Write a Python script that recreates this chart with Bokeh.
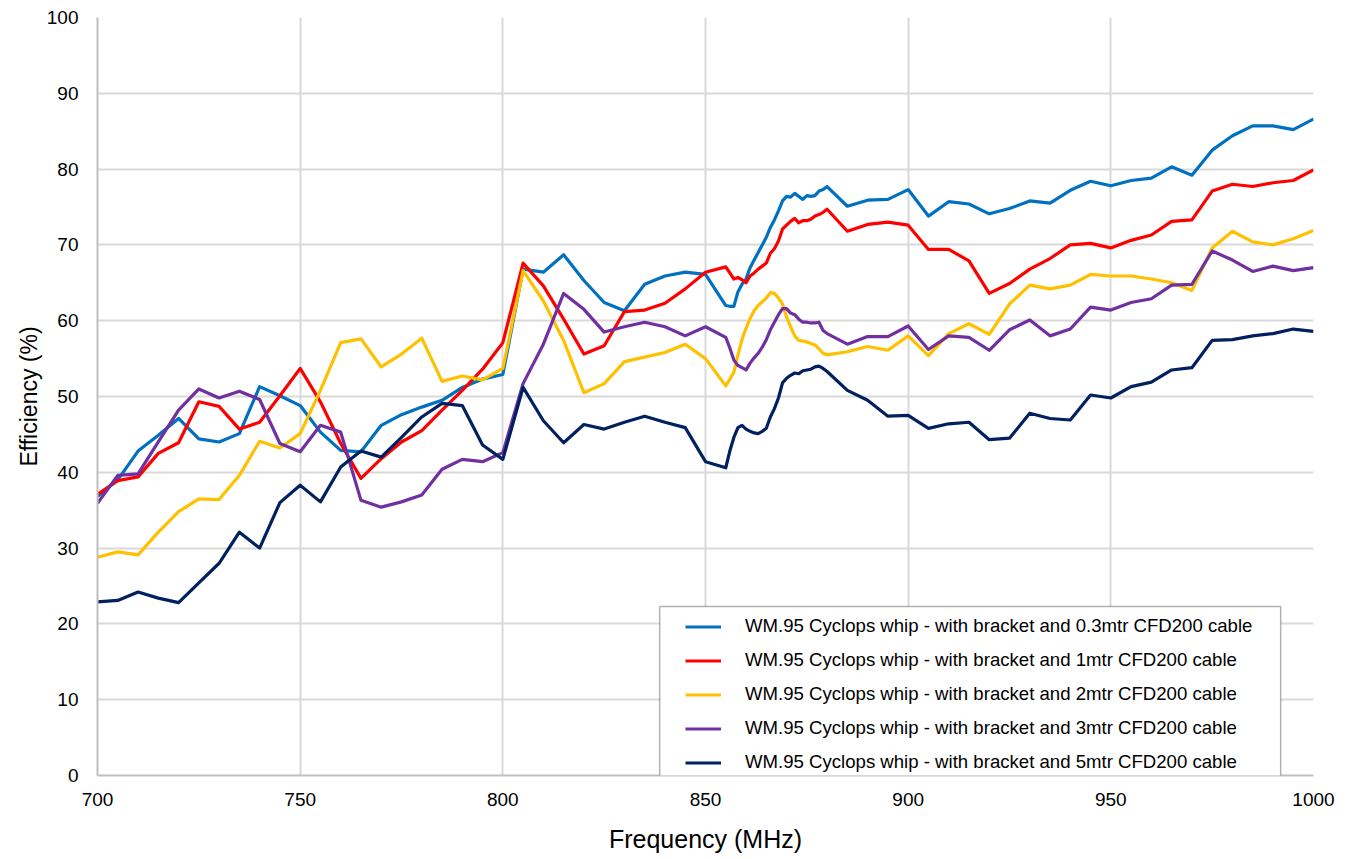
from bokeh.plotting import figure
from bokeh.models import Legend, LegendItem, BoxAnnotation, Range1d, FixedTicker
from bokeh.embed import file_html
from bokeh.resources import INLINE

freq = [700, 705, 710, 715, 720, 725, 730, 735, 740, 745, 750, 755, 760, 765, 770,
        775, 780, 785, 790, 795, 800, 805, 810, 815, 820, 825, 830, 835, 840, 845, 850,
        855, 856, 857, 858, 859, 860, 861, 862, 863, 864, 865, 866, 867, 868, 869, 870,
        871, 872, 873, 874, 875, 876, 877, 878, 879, 880,
        885, 890, 895, 900, 905, 910, 915, 920, 925, 930, 935, 940, 945, 950, 955, 960,
        965, 970, 975, 980, 985, 990, 995, 1000]

eff_03m = [36.8, 39.0, 42.8, 44.9, 47.1, 44.4, 44.0, 45.1, 51.3, 50.1, 48.8, 45.3, 42.9, 42.7, 46.2,
           47.6, 48.6, 49.5, 51.2, 52.3, 52.9, 66.8, 66.4, 68.7, 65.3, 62.4, 61.3, 64.8, 65.9, 66.4, 66.1,
           62.0, 61.9, 61.9, 63.8, 64.8, 65.5, 67.0, 68.0, 69.0, 70.0, 71.0, 72.3, 73.3, 74.5, 75.8, 76.4,
           76.3, 76.8, 76.4, 76.0, 76.5, 76.4, 76.5, 77.1, 77.3, 77.7,
           75.1, 75.9, 76.0, 77.3, 73.8, 75.7, 75.4, 74.1, 74.8, 75.8, 75.5, 77.2, 78.4, 77.8, 78.5, 78.8,
           80.3, 79.2, 82.5, 84.4, 85.7, 85.7, 85.2, 86.6]

eff_1m = [37.1, 38.9, 39.4, 42.5, 43.9, 49.3, 48.7, 45.7, 46.6, 50.1, 53.7, 49.3, 43.8, 39.2, 41.8,
          44.0, 45.5, 48.2, 50.8, 53.6, 57.1, 67.6, 64.6, 60.2, 55.6, 56.7, 61.2, 61.4, 62.3, 64.2, 66.4,
          67.1, 66.3, 65.5, 65.7, 65.4, 65.0, 65.9, 66.3, 66.8, 67.2, 67.6, 68.9, 69.5, 70.5, 72.1, 72.6,
          73.1, 73.5, 72.9, 73.2, 73.2, 73.4, 73.8, 74.0, 74.3, 74.7,
          71.8, 72.7, 73.0, 72.6, 69.4, 69.4, 67.9, 63.6, 64.9, 66.8, 68.2, 70.0, 70.2, 69.6, 70.6, 71.3,
          73.1, 73.3, 77.1, 78.0, 77.7, 78.2, 78.5, 79.9]

eff_2m = [28.8, 29.5, 29.1, 32.1, 34.8, 36.5, 36.4, 39.6, 44.1, 43.2, 45.1, 50.8, 57.1, 57.6, 53.9,
          55.6, 57.7, 52.0, 52.7, 52.2, 53.7, 66.6, 62.6, 57.4, 50.5, 51.7, 54.6, 55.2, 55.8, 56.9, 55.0,
          51.4, 52.3, 53.2, 55.5, 57.5, 59.0, 60.3, 61.3, 62.0, 62.5, 63.0, 63.7, 63.6, 63.0, 62.2, 60.5,
          59.2, 58.0, 57.4, 57.3, 57.2, 57.0, 56.8, 56.3, 55.7, 55.5,
          55.9, 56.6, 56.1, 58.0, 55.4, 58.3, 59.6, 58.2, 62.2, 64.7, 64.2, 64.7, 66.1, 65.9, 65.9, 65.5,
          65.0, 64.0, 69.6, 71.8, 70.4, 70.0, 70.8, 71.9]

eff_3m = [35.9, 39.6, 39.8, 44.0, 48.2, 51.0, 49.8, 50.7, 49.6, 43.8, 42.7, 46.2, 45.3, 36.3, 35.4,
          36.1, 37.0, 40.4, 41.7, 41.4, 42.6, 51.7, 56.9, 63.6, 61.5, 58.5, 59.2, 59.8, 59.2, 58.0, 59.2,
          57.8, 56.4, 54.8, 54.1, 53.8, 53.5, 54.4, 55.1, 55.7, 56.5, 57.5, 58.8, 59.8, 60.8, 61.6, 61.6,
          61.0, 60.8, 60.2, 59.8, 59.8, 59.7, 59.7, 59.8, 58.7, 58.3,
          56.9, 57.9, 57.9, 59.3, 56.2, 58.0, 57.8, 56.1, 58.8, 60.1, 58.0, 58.9, 61.8, 61.4, 62.4, 62.9,
          64.7, 64.8, 69.2, 68.0, 66.5, 67.2, 66.6, 67.0]

eff_5m = [22.9, 23.1, 24.2, 23.4, 22.8, 25.4, 28.0, 32.1, 30.0, 36.0, 38.3, 36.1, 40.7, 42.8, 42.0,
          44.6, 47.3, 49.1, 48.8, 43.6, 41.7, 51.2, 46.8, 43.9, 46.3, 45.7, 46.6, 47.4, 46.6, 45.9, 41.4,
          40.6, 42.8, 44.6, 45.9, 46.2, 45.7, 45.4, 45.2, 45.1, 45.4, 45.8, 47.3, 48.4, 49.8, 51.8, 52.4,
          52.8, 53.1, 53.0, 53.4, 53.5, 53.6, 53.9, 54.0, 53.7, 53.3,
          50.8, 49.5, 47.4, 47.5, 45.8, 46.4, 46.6, 44.3, 44.5, 47.8, 47.1, 46.9, 50.2, 49.8, 51.3, 51.9,
          53.5, 53.8, 57.4, 57.5, 58.0, 58.3, 58.9, 58.6]

series_labels = [
    "WM.95 Cyclops whip - with bracket and 0.3mtr CFD200 cable",
    "WM.95 Cyclops whip - with bracket and 1mtr CFD200 cable",
    "WM.95 Cyclops whip - with bracket and 2mtr CFD200 cable",
    "WM.95 Cyclops whip - with bracket and 3mtr CFD200 cable",
    "WM.95 Cyclops whip - with bracket and 5mtr CFD200 cable",
]
series_values = [eff_03m, eff_1m, eff_2m, eff_3m, eff_5m]
series_colors = ["#0070C0", "#FF0000", "#FFC000", "#7030A0", "#002060"]

x_ticks = [700, 750, 800, 850, 900, 950, 1000]
y_ticks = [0, 10, 20, 30, 40, 50, 60, 70, 80, 90, 100]

FONT = "Liberation Sans"

p = figure(width=1342, height=857,
           x_range=Range1d(700, 1000), y_range=Range1d(0, 100),
           output_backend="svg", toolbar_location=None,
           min_border_left=97, min_border_right=29,
           min_border_top=17, min_border_bottom=82)
p.outline_line_color = None
p.background_fill_color = "white"

for ax in (p.xaxis[0], p.yaxis[0]):
    ax.axis_line_color = "#bfbfbf"
    ax.axis_line_width = 2
    ax.major_tick_line_color = None
    ax.minor_tick_line_color = None
    ax.major_tick_out = 0
    ax.major_tick_in = 0
    ax.minor_tick_out = 0
    ax.major_label_text_font = FONT
    ax.major_label_text_font_size = "19px"
    ax.major_label_text_color = "#000000"
    ax.axis_label_text_font = FONT
    ax.axis_label_text_font_style = "normal"
    ax.axis_label_text_color = "#000000"

p.xaxis.ticker = FixedTicker(ticks=x_ticks)
p.yaxis.ticker = FixedTicker(ticks=y_ticks)
p.xaxis.axis_label = "Frequency (MHz)"
p.yaxis.axis_label = "Efficiency (%)"
p.xaxis.axis_label_text_font_size = "25px"
p.yaxis.axis_label_text_font_size = "23px"
p.xaxis.major_label_standoff = 17
p.yaxis.major_label_standoff = 19
p.xaxis.axis_label_standoff = 16
p.yaxis.axis_label_standoff = 2

p.xgrid.grid_line_color = "#d9d9d9"
p.ygrid.grid_line_color = "#d9d9d9"
p.xgrid.grid_line_width = 2
p.ygrid.grid_line_width = 2

renderers = []
for vals, col in zip(series_values, series_colors):
    r = p.line(freq, vals, line_color=col, line_width=3.2, line_join="round")
    renderers.append(r)

# legend frame (white box with black border)
box = BoxAnnotation(left=838.7, right=991.9, bottom=-0.13, top=22.3,
                    fill_color="white", fill_alpha=1.0,
                    line_color="black", line_width=1.5)
p.add_layout(box)

legend = Legend(items=[LegendItem(label=lab, renderers=[r]) for lab, r in zip(series_labels, renderers)],
                location=(582, -4), padding=6, spacing=12,
                label_height=21, glyph_height=21, glyph_width=36, label_standoff=24,
                label_text_font=FONT, label_text_font_size="18.6px",
                label_text_color="#000000",
                border_line_alpha=0, background_fill_alpha=0, margin=0)
p.add_layout(legend)

open("out.html", "w").write(file_html(p, INLINE))
